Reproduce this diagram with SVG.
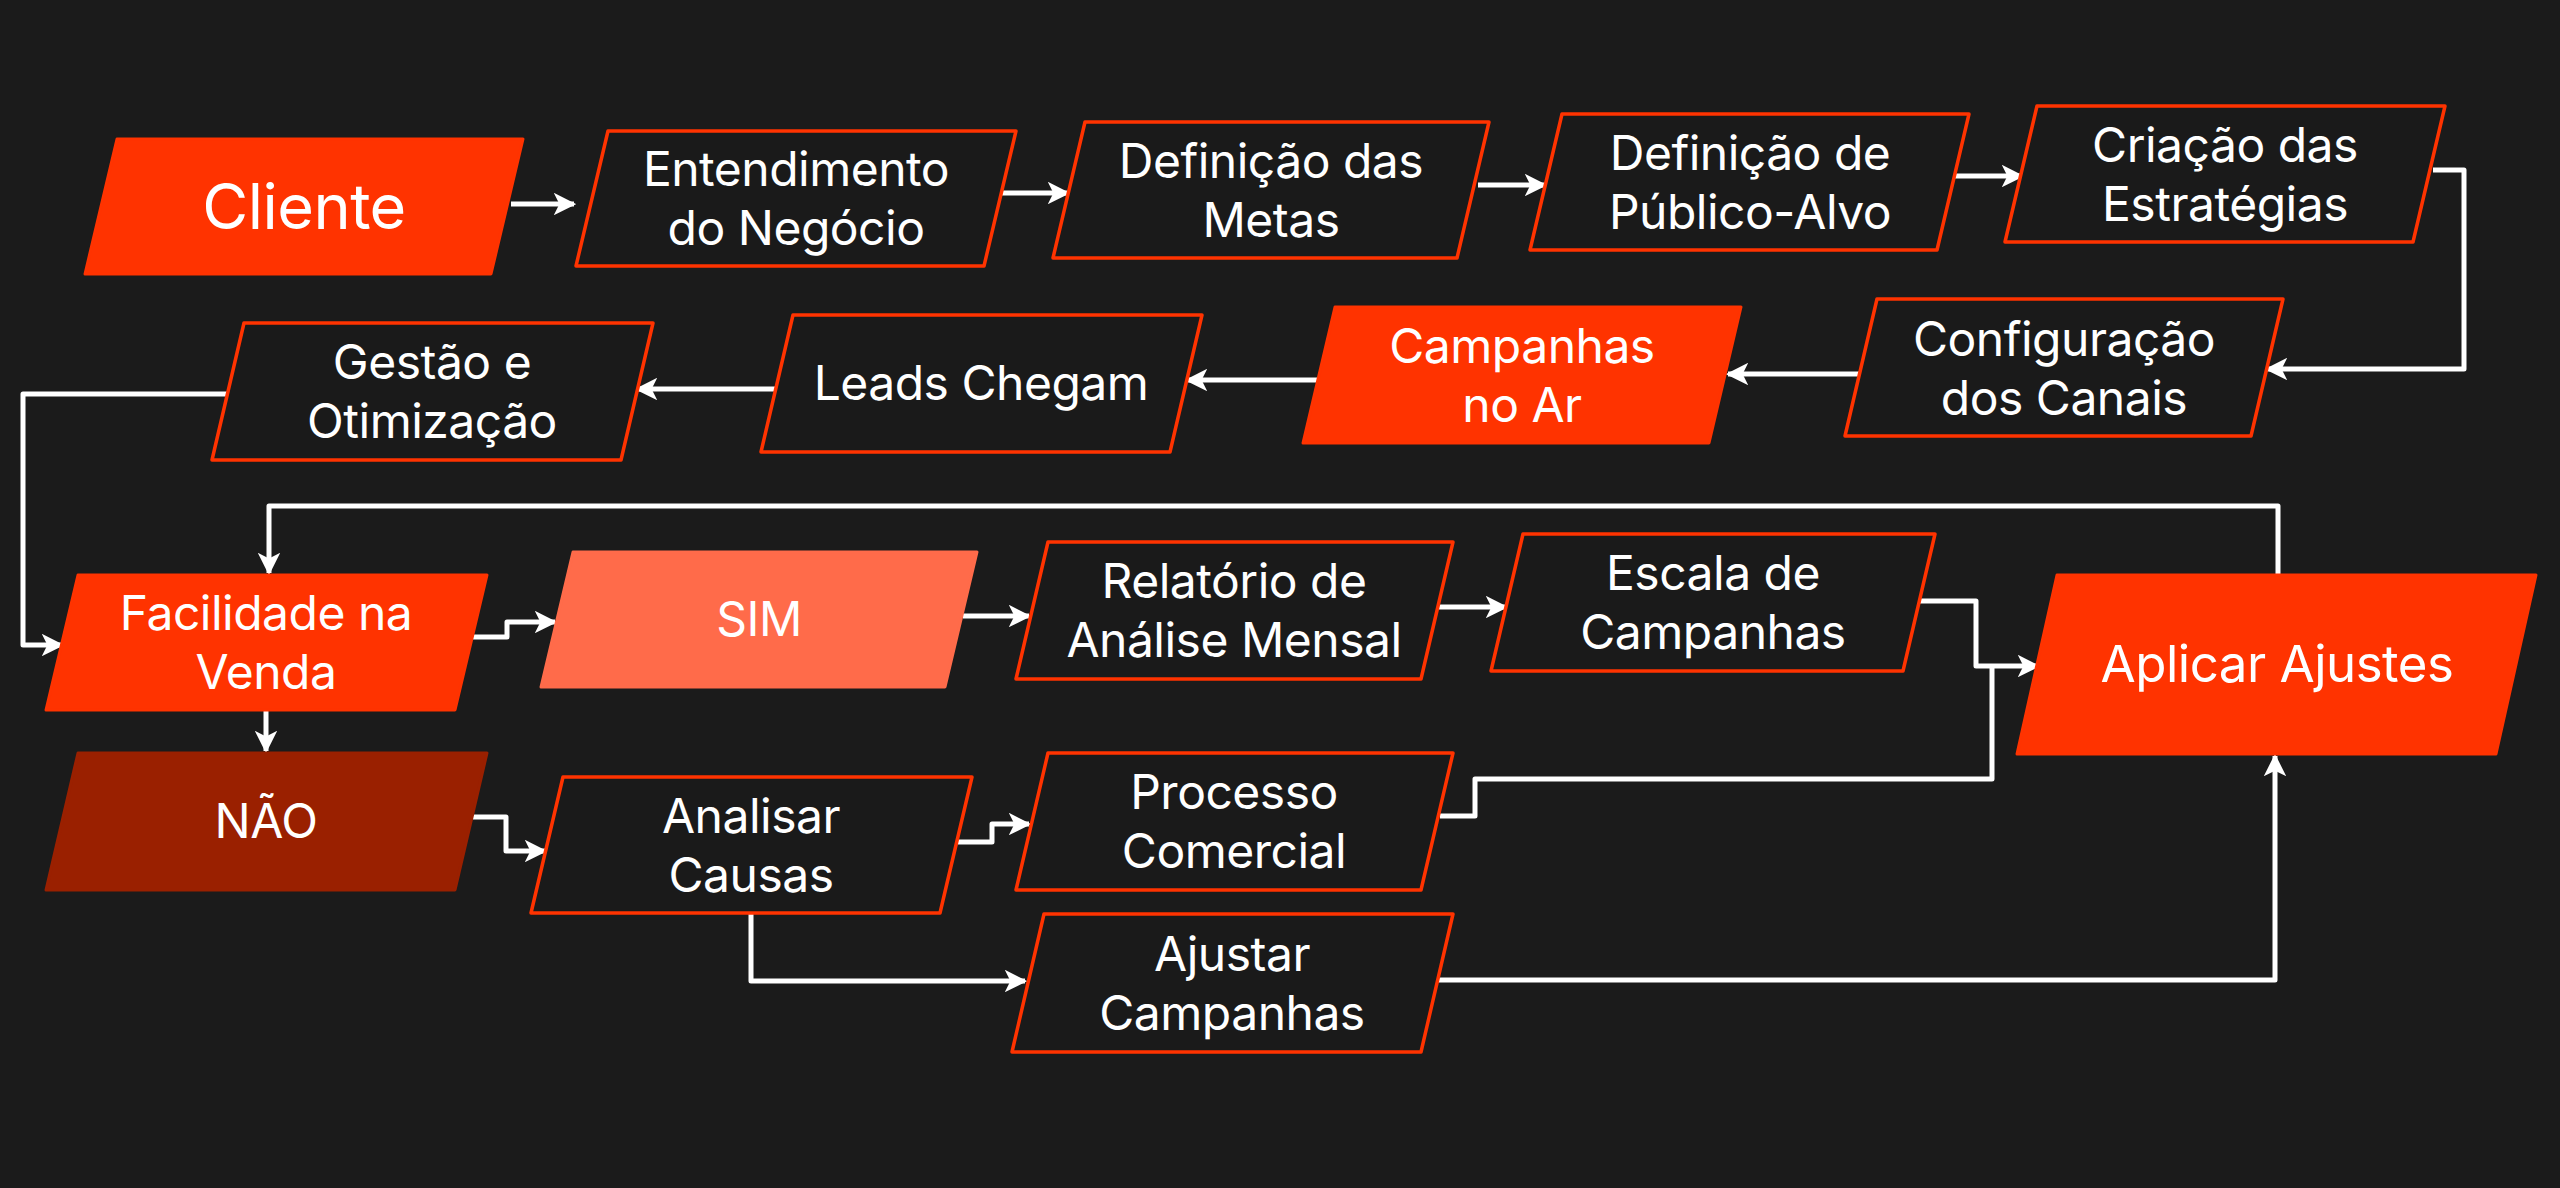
<svg xmlns="http://www.w3.org/2000/svg" width="2560" height="1188" viewBox="0 0 2560 1188">
<style>
.o{fill:#1a1a1a;stroke:#ff3300;stroke-width:3.5;stroke-linejoin:round}
.f{fill:#ff3300;stroke:#ff3300;stroke-width:3;stroke-linejoin:round}
.s{fill:#ff6b4a;stroke:#ff6b4a;stroke-width:3;stroke-linejoin:round}
.n{fill:#9a2000;stroke:#9a2000;stroke-width:3;stroke-linejoin:round}
text{font-family:Inter,"Liberation Sans",sans-serif;font-size:48px;fill:#fff;text-anchor:middle;letter-spacing:-0.5px}
.c path{fill:none;stroke:#fff;stroke-width:5;stroke-linejoin:round}
</style>
<defs><marker id="a" viewBox="0 0 10 10" refX="9" refY="5" markerWidth="4.5" markerHeight="4.5" orient="auto" markerUnits="strokeWidth"><path d="M0,0 L10,5 L0,10 L2.5,5 Z" fill="#fff"/></marker></defs>
<rect width="2560" height="1188" fill="#1b1b1b"/>
<g class="c">
<path d="M511,204 H574" marker-end="url(#a)"/>
<path d="M1001,193 H1068" marker-end="url(#a)"/>
<path d="M1478,185 H1545" marker-end="url(#a)"/>
<path d="M1955,176 H2022" marker-end="url(#a)"/>
<path d="M2433,170 H2464 V369 H2267" marker-end="url(#a)"/>
<path d="M1860,374 H1728" marker-end="url(#a)"/>
<path d="M1318,380 H1187" marker-end="url(#a)"/>
<path d="M777,389 H637" marker-end="url(#a)"/>
<path d="M230,394 H23 V645 H62" marker-end="url(#a)"/>
<path d="M473,637 H507 V622 H555" marker-end="url(#a)"/>
<path d="M963,616 H1029" marker-end="url(#a)"/>
<path d="M1437,607 H1506" marker-end="url(#a)"/>
<path d="M1919,601 H1976 V666 H2038" marker-end="url(#a)"/>
<path d="M1440,816 H1475 V779 H1992 V666"/>
<path d="M1437,980 H2275 V756" marker-end="url(#a)"/>
<path d="M2278,575 V506 H269 V573" marker-end="url(#a)"/>
<path d="M266,710 V751" marker-end="url(#a)"/>
<path d="M473,817 H506 V851 H545" marker-end="url(#a)"/>
<path d="M958,842 H992 V824 H1029" marker-end="url(#a)"/>
<path d="M751,913 V981 H1025" marker-end="url(#a)"/>
</g>
<g id="cliente"><path class="f" d="M117,139 H523 L491,274 H85 Z"/><text x="304" y="229" style="font-size:63px">Cliente</text></g>
<g id="entendimento"><path class="o" d="M608,131 H1016 L984,266 H576 Z"/><text x="796" y="186">Entendimento</text><text x="796" y="245">do Negócio</text></g>
<g id="metas"><path class="o" d="M1085,122 H1489 L1457,258 H1053 Z"/><text x="1271" y="178">Definição das</text><text x="1271" y="237">Metas</text></g>
<g id="publico"><path class="o" d="M1562,114 H1969 L1937,250 H1530 Z"/><text x="1750" y="170">Definição de</text><text x="1750" y="229">Público-Alvo</text></g>
<g id="criacao"><path class="o" d="M2037,106 H2445 L2413,242 H2005 Z"/><text x="2225" y="162">Criação das</text><text x="2225" y="221">Estratégias</text></g>
<g id="configuracao"><path class="o" d="M1877,299 H2283 L2251,436 H1845 Z"/><text x="2064" y="356">Configuração</text><text x="2064" y="415">dos Canais</text></g>
<g id="campanhasar"><path class="f" d="M1335,307 H1741 L1709,443 H1303 Z"/><text x="1522" y="363">Campanhas</text><text x="1522" y="422">no Ar</text></g>
<g id="leads"><path class="o" d="M793,315 H1202 L1170,452 H761 Z"/><text x="981" y="400">Leads Chegam</text></g>
<g id="gestao"><path class="o" d="M244,323 H653 L621,460 H212 Z"/><text x="432" y="379">Gestão e</text><text x="432" y="438">Otimização</text></g>
<g id="facilidade"><path class="f" d="M78,575 H487 L455,710 H46 Z"/><text x="266" y="630">Facilidade na</text><text x="266" y="689">Venda</text></g>
<g id="sim"><path class="s" d="M573,552 H977 L945,687 H541 Z"/><text x="759" y="636">SIM</text></g>
<g id="relatorio"><path class="o" d="M1048,542 H1453 L1421,679 H1016 Z"/><text x="1234" y="598">Relatório de</text><text x="1234" y="657">Análise Mensal</text></g>
<g id="escala"><path class="o" d="M1523,534 H1935 L1903,671 H1491 Z"/><text x="1713" y="590">Escala de</text><text x="1713" y="649">Campanhas</text></g>
<g id="aplicar"><path class="f" d="M2057,575 H2536 L2496,754 H2017 Z"/><text x="2277" y="682" style="font-size:51px">Aplicar Ajustes</text></g>
<g id="nao"><path class="n" d="M78,753 H487 L455,890 H46 Z"/><text x="266" y="838">NÃO</text></g>
<g id="analisar"><path class="o" d="M563,777 H972 L940,913 H531 Z"/><text x="751" y="833">Analisar</text><text x="751" y="892">Causas</text></g>
<g id="processo"><path class="o" d="M1048,753 H1453 L1421,890 H1016 Z"/><text x="1234" y="809">Processo</text><text x="1234" y="868">Comercial</text></g>
<g id="ajustar"><path class="o" d="M1044,914 H1453 L1421,1052 H1012 Z"/><text x="1232" y="971">Ajustar</text><text x="1232" y="1030">Campanhas</text></g>
</svg>
